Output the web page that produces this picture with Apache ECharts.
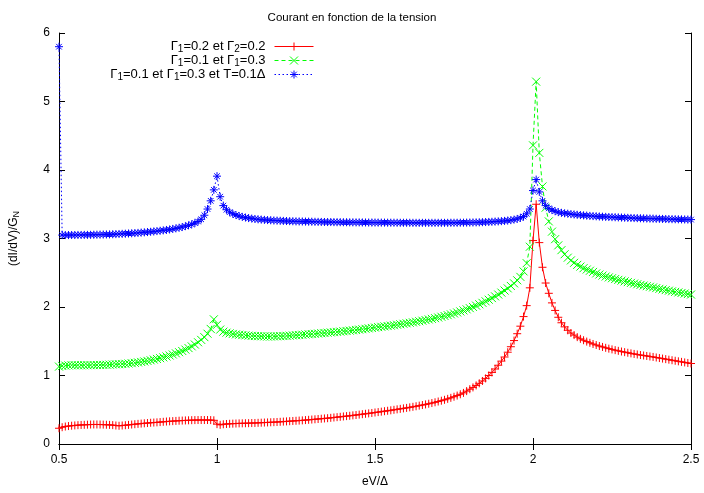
<!DOCTYPE html>
<html>
<head>
<meta charset="utf-8">
<script src="https://cdn.jsdelivr.net/npm/echarts@6/dist/echarts.min.js"></script>
<style>
html,body{margin:0;padding:0;background:#fff;}
#c{width:704px;height:493px;}
</style>
</head>
<body>
<div id="c"></div>
<script>
// x grid (eV/Δ), step 0.01
var X = [
0.50,0.51,0.52,0.53,0.54,0.55,0.56,0.57,0.58,0.59,
0.60,0.61,0.62,0.63,0.64,0.65,0.66,0.67,0.68,0.69,
0.70,0.71,0.72,0.73,0.74,0.75,0.76,0.77,0.78,0.79,
0.80,0.81,0.82,0.83,0.84,0.85,0.86,0.87,0.88,0.89,
0.90,0.91,0.92,0.93,0.94,0.95,0.96,0.97,0.98,0.99,
1.00,1.01,1.02,1.03,1.04,1.05,1.06,1.07,1.08,1.09,
1.10,1.11,1.12,1.13,1.14,1.15,1.16,1.17,1.18,1.19,
1.20,1.21,1.22,1.23,1.24,1.25,1.26,1.27,1.28,1.29,
1.30,1.31,1.32,1.33,1.34,1.35,1.36,1.37,1.38,1.39,
1.40,1.41,1.42,1.43,1.44,1.45,1.46,1.47,1.48,1.49,
1.50,1.51,1.52,1.53,1.54,1.55,1.56,1.57,1.58,1.59,
1.60,1.61,1.62,1.63,1.64,1.65,1.66,1.67,1.68,1.69,
1.70,1.71,1.72,1.73,1.74,1.75,1.76,1.77,1.78,1.79,
1.80,1.81,1.82,1.83,1.84,1.85,1.86,1.87,1.88,1.89,
1.90,1.91,1.92,1.93,1.94,1.95,1.96,1.97,1.98,1.99,
2.00,2.01,2.02,2.03,2.04,2.05,2.06,2.07,2.08,2.09,
2.10,2.11,2.12,2.13,2.14,2.15,2.16,2.17,2.18,2.19,
2.20,2.21,2.22,2.23,2.24,2.25,2.26,2.27,2.28,2.29,
2.30,2.31,2.32,2.33,2.34,2.35,2.36,2.37,2.38,2.39,
2.40,2.41,2.42,2.43,2.44,2.45,2.46,2.47,2.48,2.49,
2.50];

// Γ1=0.2 et Γ2=0.2
var redY = [
0.23,0.245,0.255,0.262,0.267,0.271,0.275,0.278,0.28,0.282,
0.284,0.285,0.285,0.284,0.283,0.281,0.279,0.276,0.27,0.266,
0.27,0.274,0.279,0.284,0.289,0.294,0.298,0.302,0.306,0.31,
0.313,0.316,0.32,0.324,0.328,0.331,0.334,0.337,0.34,0.342,
0.344,0.346,0.348,0.349,0.35,0.35,0.35,0.35,0.349,0.346,
0.29,0.28,0.288,0.292,0.295,0.297,0.299,0.301,0.302,0.303,
0.304,0.306,0.307,0.309,0.311,0.313,0.315,0.317,0.319,0.321,
0.324,0.327,0.33,0.333,0.336,0.339,0.342,0.345,0.349,0.353,
0.357,0.361,0.365,0.369,0.373,0.377,0.382,0.387,0.392,0.397,
0.402,0.407,0.412,0.418,0.423,0.429,0.435,0.441,0.447,0.453,
0.46,0.466,0.472,0.479,0.485,0.492,0.499,0.506,0.513,0.52,
0.527,0.535,0.543,0.551,0.56,0.569,0.578,0.588,0.598,0.609,
0.62,0.632,0.645,0.659,0.674,0.69,0.707,0.726,0.746,0.772,
0.80,0.826,0.855,0.886,0.92,0.958,1.0,1.045,1.095,1.15,
1.21,1.27,1.34,1.42,1.51,1.61,1.72,1.86,2.02,2.28,
2.97,3.50,2.94,2.58,2.35,2.20,2.06,1.95,1.85,1.77,
1.71,1.66,1.62,1.59,1.56,1.535,1.515,1.495,1.477,1.46,
1.445,1.43,1.417,1.404,1.392,1.381,1.37,1.36,1.35,1.341,
1.332,1.323,1.315,1.307,1.299,1.292,1.285,1.278,1.271,1.263,
1.255,1.247,1.239,1.231,1.223,1.215,1.207,1.199,1.191,1.183,
1.175];

// Γ1=0.1 et Γ1=0.3
var greenY = [
1.13,1.14,1.145,1.148,1.15,1.15,1.15,1.15,1.15,1.15,
1.151,1.152,1.153,1.154,1.155,1.157,1.159,1.161,1.163,1.165,
1.168,1.171,1.175,1.18,1.185,1.191,1.198,1.205,1.213,1.222,
1.232,1.242,1.253,1.265,1.278,1.292,1.307,1.323,1.34,1.358,
1.378,1.4,1.425,1.452,1.485,1.52,1.56,1.61,1.68,1.82,
1.74,1.67,1.64,1.625,1.615,1.607,1.6,1.595,1.59,1.586,
1.582,1.579,1.576,1.574,1.572,1.571,1.57,1.57,1.571,1.572,
1.574,1.576,1.579,1.582,1.585,1.588,1.591,1.595,1.599,1.602,
1.605,1.609,1.613,1.617,1.621,1.625,1.629,1.633,1.637,1.641,
1.646,1.65,1.655,1.66,1.665,1.67,1.676,1.682,1.688,1.694,
1.70,1.706,1.711,1.717,1.722,1.728,1.734,1.741,1.748,1.755,
1.762,1.769,1.776,1.784,1.792,1.8,1.809,1.818,1.827,1.837,
1.847,1.858,1.869,1.881,1.893,1.906,1.92,1.935,1.95,1.966,
1.983,2.001,2.02,2.04,2.061,2.083,2.106,2.13,2.155,2.182,
2.21,2.24,2.272,2.307,2.345,2.39,2.44,2.52,2.64,2.88,
4.36,5.29,4.25,3.76,3.45,3.25,3.10,2.99,2.90,2.83,
2.77,2.72,2.68,2.645,2.615,2.59,2.567,2.547,2.529,2.512,
2.49,2.474,2.459,2.445,2.432,2.42,2.408,2.396,2.385,2.374,
2.363,2.352,2.342,2.332,2.322,2.313,2.304,2.295,2.286,2.276,
2.265,2.256,2.247,2.238,2.229,2.221,2.213,2.205,2.197,2.189,
2.182];

// Γ1=0.1 et Γ1=0.3 et T=0.1Δ
var blueY = [
5.8,3.05,3.05,3.05,3.051,3.051,3.052,3.052,3.053,3.053,
3.054,3.055,3.056,3.057,3.058,3.059,3.06,3.062,3.064,3.066,
3.068,3.07,3.073,3.076,3.079,3.082,3.086,3.09,3.094,3.098,
3.103,3.108,3.113,3.119,3.125,3.132,3.14,3.148,3.157,3.167,
3.18,3.192,3.207,3.225,3.248,3.28,3.34,3.43,3.55,3.71,
3.91,3.61,3.48,3.42,3.385,3.36,3.342,3.328,3.316,3.306,
3.298,3.291,3.285,3.28,3.276,3.272,3.269,3.266,3.263,3.261,
3.259,3.257,3.255,3.253,3.252,3.25,3.249,3.248,3.247,3.246,
3.245,3.244,3.243,3.242,3.241,3.24,3.24,3.239,3.238,3.238,
3.237,3.237,3.236,3.236,3.235,3.235,3.234,3.234,3.233,3.233,
3.233,3.232,3.232,3.232,3.231,3.231,3.231,3.23,3.23,3.23,
3.23,3.23,3.229,3.229,3.229,3.229,3.229,3.229,3.229,3.229,
3.229,3.229,3.229,3.229,3.23,3.23,3.23,3.231,3.231,3.232,
3.233,3.234,3.235,3.236,3.238,3.24,3.242,3.244,3.247,3.25,
3.253,3.257,3.262,3.268,3.276,3.286,3.30,3.32,3.36,3.43,
3.70,3.86,3.68,3.55,3.48,3.44,3.415,3.398,3.385,3.375,
3.368,3.362,3.356,3.351,3.346,3.342,3.338,3.334,3.33,3.327,
3.324,3.321,3.318,3.316,3.314,3.312,3.31,3.308,3.306,3.304,
3.302,3.3,3.298,3.297,3.295,3.294,3.292,3.291,3.29,3.288,
3.287,3.286,3.285,3.283,3.282,3.281,3.28,3.279,3.278,3.277,
3.276];

var xTicks = [0.5, 1, 1.5, 2, 2.5];
var yTicks = [0, 1, 2, 3, 4, 5, 6];

var seriesNames = [
  'Γ1=0.2 et Γ2=0.2',
  'Γ1=0.1 et Γ1=0.3',
  'Γ1=0.1 et Γ1=0.3 et T=0.1Δ'
];
var legendRich = [
  '{n|Γ}{s|1}{n|=0.2 et Γ}{s|2}{n|=0.2}',
  '{n|Γ}{s|1}{n|=0.1 et Γ}{s|1}{n|=0.3}',
  '{n|Γ}{s|1}{n|=0.1 et Γ}{s|1}{n|=0.3 et T=0.1Δ}'
];

function pairs(ys){ return X.map(function(x,i){ return [x, ys[i]]; }); }

var FONT = 'Liberation Sans, Arial, Helvetica, sans-serif';
var SYM_PLUS = 'path://M0,5L10,5M5,0L5,10';
var SYM_X = 'path://M0,0L10,10M0,10L10,0';
var SYM_STAR = 'path://M0,5L10,5M5,0L5,10M1.5,1.5L8.5,8.5M1.5,8.5L8.5,1.5';

var richLegend = {
  n: {fontSize: 13, fontFamily: FONT, color: '#000', lineHeight: 15, verticalAlign: 'middle'},
  s: {fontSize: 10, fontFamily: FONT, color: '#000', lineHeight: 9, verticalAlign: 'bottom'}
};
var richAxis = {
  n: {fontSize: 12, fontFamily: FONT, color: '#000', lineHeight: 14, verticalAlign: 'middle'},
  s: {fontSize: 9, fontFamily: FONT, color: '#000', lineHeight: 8, verticalAlign: 'bottom'}
};

function mkLegend(i, top){
  return {
    show: true,
    data: [seriesNames[i]],
    orient: 'vertical',
    align: 'right',
    right: 704 - 314,
    top: top,
    itemWidth: 39,
    itemHeight: 10,
    padding: 0,
    formatter: function(){ return legendRich[i]; },
    textStyle: {rich: richLegend, padding: [0, 4, 0, 0]},
    lineStyle: {width: 1},
    itemStyle: {borderWidth: 1},
    selectedMode: false
  };
}

var chart = echarts.init(document.getElementById('c'), null, {renderer: 'canvas'});
var axisCommon = {
  type: 'value',
  axisLine: {show: true, lineStyle: {color: '#000', width: 1}},
  axisTick: {show: true, inside: true, length: 6, lineStyle: {color: '#000'}},
  splitLine: {show: false}
};
chart.setOption({
  animation: false,
  backgroundColor: '#fff',
  title: {
    text: 'Courant en fonction de la tension',
    left: 'center', top: 7,
    textStyle: {fontFamily: FONT, fontSize: 11.5, fontWeight: 'normal', color: '#000'}
  },
  grid: {left: 59, right: 13, top: 33, bottom: 46, containLabel: false},
  legend: [mkLegend(0, 40), mkLegend(1, 54), mkLegend(2, 68)],
  xAxis: [
    Object.assign({}, axisCommon, {
      min: xTicks[0], max: xTicks[xTicks.length-1], interval: 0.5, position: 'bottom',
      axisLabel: {color: '#000', fontFamily: FONT, fontSize: 12, margin: 10,
        formatter: function(v){ return String(v); }},
      name: 'eV/Δ', nameLocation: 'middle', nameGap: 32,
      nameTextStyle: {fontFamily: FONT, fontSize: 12, color: '#000'}
    }),
    Object.assign({}, axisCommon, {
      min: xTicks[0], max: xTicks[xTicks.length-1], interval: 0.5, position: 'top',
      axisLabel: {show: false}
    })
  ],
  yAxis: [
    Object.assign({}, axisCommon, {
      min: yTicks[0], max: yTicks[yTicks.length-1], interval: 1, position: 'left',
      axisLabel: {color: '#000', fontFamily: FONT, fontSize: 12, margin: 9},
      name: '{n|(dI/dV)/G}{s|N}', nameLocation: 'middle', nameGap: 38, nameRotate: 90,
      nameTextStyle: {rich: richAxis}
    }),
    Object.assign({}, axisCommon, {
      min: yTicks[0], max: yTicks[yTicks.length-1], interval: 1, position: 'right',
      axisLabel: {show: false}
    })
  ],
  series: [
    {
      name: seriesNames[0], type: 'line', data: pairs(redY),
      symbol: SYM_PLUS, symbolSize: 8, showAllSymbol: true,
      lineStyle: {color: '#ff0000', width: 1, type: 'solid'},
      itemStyle: {color: '#ff0000', borderColor: '#ff0000', borderWidth: 1},
      z: 3
    },
    {
      name: seriesNames[1], type: 'line', data: pairs(greenY),
      symbol: SYM_X, symbolSize: 8, showAllSymbol: true,
      lineStyle: {color: '#00ff00', width: 1, type: [4, 3]},
      itemStyle: {color: '#00ff00', borderColor: '#00ff00', borderWidth: 1},
      z: 4
    },
    {
      name: seriesNames[2], type: 'line', data: pairs(blueY),
      symbol: SYM_STAR, symbolSize: 8, showAllSymbol: true,
      lineStyle: {color: '#0000ff', width: 1, type: [1.5, 2.5]},
      itemStyle: {color: '#0000ff', borderColor: '#0000ff', borderWidth: 1},
      z: 5
    }
  ]
});
</script>
</body>
</html>
